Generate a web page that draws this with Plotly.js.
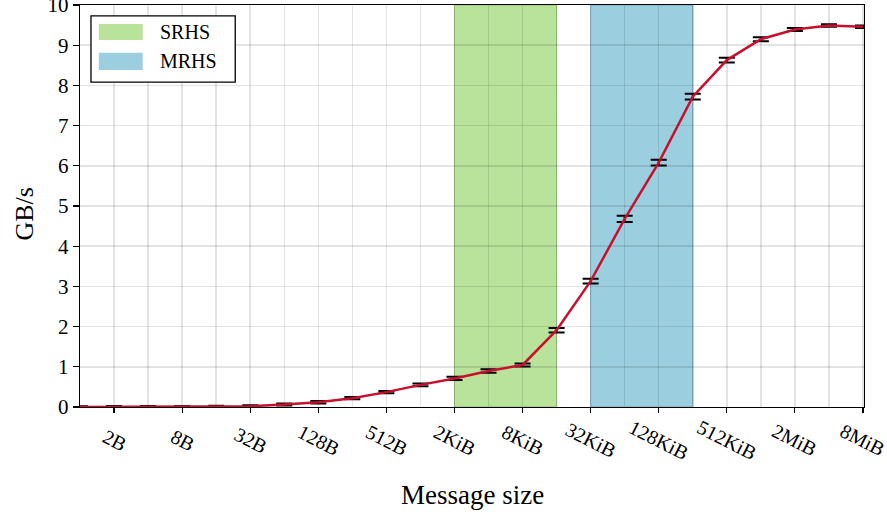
<!DOCTYPE html>
<html>
<head>
<meta charset="utf-8">
<script src="https://cdn.plot.ly/plotly-3.0.1.min.js"></script>
<style>html,body{margin:0;padding:0;background:#fff;}#chart{width:887px;height:515px;}</style>
</head>
<body>
<div id="chart"></div>
<script>
// Message sizes in bytes (1B .. 8MiB, every power of two)
const sizes = [1,2,4,8,16,32,64,128,256,512,1024,2048,4096,8192,16384,32768,65536,131072,262144,524288,1048576,2097152,4194304,8388608];
// Throughput in GB/s
const throughput = [0.001,0.002,0.004,0.007,0.012,0.02,0.06,0.12,0.22,0.37,0.55,0.71,0.895,1.045,1.91,3.13,4.68,6.08,7.72,8.63,9.15,9.39,9.49,9.46];
// Error (± GB/s)
const errors = [0.02,0.02,0.02,0.02,0.02,0.025,0.025,0.03,0.03,0.03,0.035,0.04,0.045,0.04,0.055,0.06,0.08,0.07,0.07,0.06,0.05,0.035,0.03,0.03];
// Tick labels
const tickSizes = [2,8,32,128,512,2048,8192,32768,131072,524288,2097152,8388608];
const tickLabels = ["2B","8B","32B","128B","512B","2KiB","8KiB","32KiB","128KiB","512KiB","2MiB","8MiB"];
// Highlighted ranges (bytes)
const srhsRange = [2048, 16384];
const mrhsRange = [32768, 262144];
const bandNames = ["SRHS","MRHS"];
const xTitle = "Message size";
const yTitle = "GB/s";

const lg = v => Math.log2(v);
const FONT = "Liberation Serif, Times New Roman, serif";
const green = "#b9e29b", blue = "#9bcfe0";
const GRID = "rgba(0,0,0,0.11)";

const trace = {
  x: sizes.map(lg), y: throughput, type: "scatter", mode: "lines",
  line: {color: "#c8102e", width: 2.5},
  error_y: {type: "data", array: errors, visible: true, color: "#000", thickness: 2, width: 8},
  showlegend: false, hoverinfo: "skip"
};

const shapes = [
  {type: "rect", xref: "x", yref: "paper", x0: lg(srhsRange[0]), x1: lg(srhsRange[1]), y0: 0, y1: 1,
   fillcolor: green, line: {color: "rgba(110,170,70,0.6)", width: 1}, layer: "below"},
  {type: "rect", xref: "x", yref: "paper", x0: lg(mrhsRange[0]), x1: lg(mrhsRange[1]), y0: 0, y1: 1,
   fillcolor: blue, line: {color: "rgba(70,140,170,0.6)", width: 1}, layer: "below"},
  // legend box
  {type: "rect", xref: "paper", yref: "paper", x0: 0.014, x1: 0.198, y0: 0.808, y1: 0.973,
   fillcolor: "#fff", line: {color: "#000", width: 1.3}, layer: "above"},
  {type: "rect", xref: "paper", yref: "paper", x0: 0.024, x1: 0.080, y0: 0.913, y1: 0.953,
   fillcolor: green, line: {width: 0}, layer: "above"},
  {type: "rect", xref: "paper", yref: "paper", x0: 0.024, x1: 0.080, y0: 0.838, y1: 0.881,
   fillcolor: blue, line: {width: 0}, layer: "above"}
];

const annotations = [
  {xref: "paper", yref: "paper", x: 0.100, y: 0.932, xanchor: "left", yanchor: "middle", text: bandNames[0], showarrow: false, font: {family: FONT, size: 20, color: "#000"}},
  {xref: "paper", yref: "paper", x: 0.100, y: 0.860, xanchor: "left", yanchor: "middle", text: bandNames[1], showarrow: false, font: {family: FONT, size: 20, color: "#000"}},
  {xref: "paper", yref: "paper", x: 0.5, y: -0.219, xanchor: "center", yanchor: "middle", text: xTitle, showarrow: false, font: {family: FONT, size: 27, color: "#000"}},
  {xref: "paper", yref: "paper", x: -0.072, y: 0.48, xanchor: "center", yanchor: "middle", textangle: -90, text: yTitle, showarrow: false, font: {family: FONT, size: 26, color: "#000"}}
];
tickSizes.forEach((s, i) => {
  annotations.push({xref: "x", yref: "paper", x: lg(s), y: -0.083, xanchor: "center", yanchor: "middle",
    textangle: 27, text: tickLabels[i], showarrow: false, font: {family: FONT, size: 20, color: "#000"}});
});

const layout = {
  width: 887, height: 515,
  margin: {l: 80, r: 23, t: 5, b: 108},
  paper_bgcolor: "#fff", plot_bgcolor: "#fff",
  font: {family: FONT, size: 20, color: "#000"},
  xaxis: {
    range: [0, 23.03], tickmode: "array", tickvals: tickSizes.map(lg), ticktext: tickLabels,
    showticklabels: false, ticks: "outside", ticklen: 5, tickcolor: "#000", tickwidth: 1.2,
    showgrid: true, gridcolor: GRID, gridwidth: 1.5,
    minor: {tickmode: "linear", tick0: 0, dtick: 2, showgrid: true, gridcolor: GRID, gridwidth: 1.5, ticks: ""},
    showline: true, linecolor: "#000", linewidth: 1.3, mirror: true, zeroline: false
  },
  yaxis: {
    range: [0, 10], dtick: 1, ticks: "outside", ticklen: 6, tickcolor: "#000", tickwidth: 1.2,
    showgrid: true, gridcolor: GRID, gridwidth: 1.5, ticklabeloverflow: "allow",
    showline: true, linecolor: "#000", linewidth: 1.3, mirror: true, zeroline: false,
    tickfont: {family: FONT, size: 21}
  },
  shapes: shapes, annotations: annotations
};

Plotly.newPlot("chart", [trace], layout, {displayModeBar: false, staticPlot: true});
</script>
</body>
</html>
